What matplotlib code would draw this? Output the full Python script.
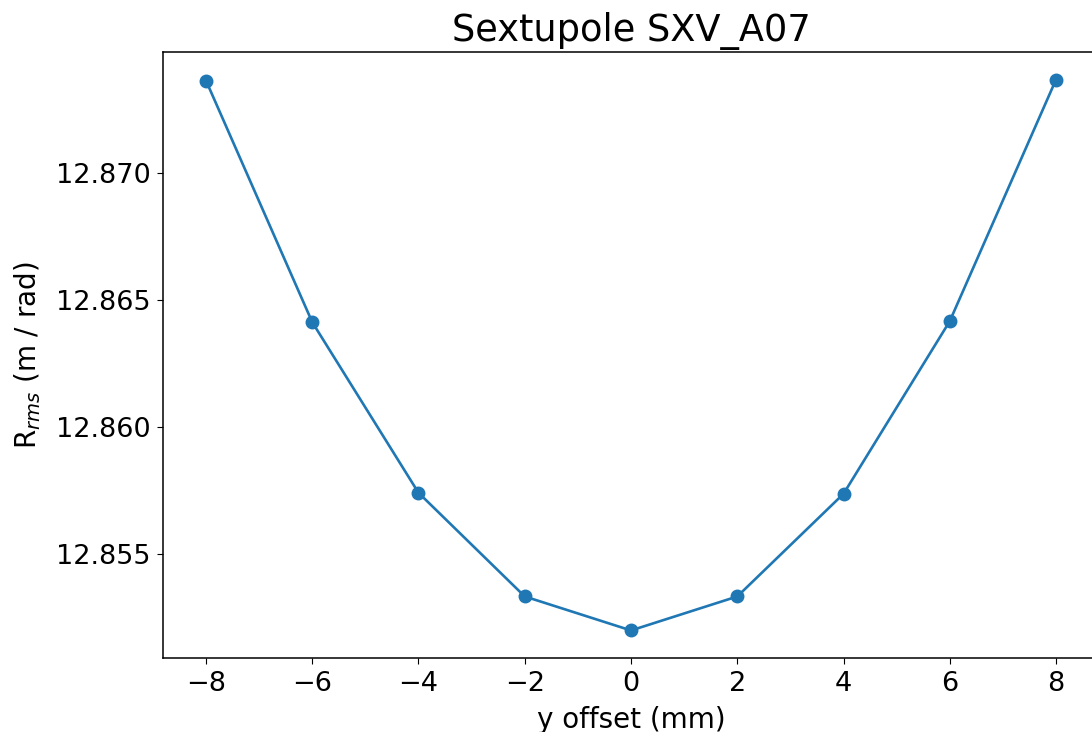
import matplotlib
matplotlib.use('Agg')
import matplotlib.pyplot as plt
from matplotlib.ticker import FormatStrFormatter

# y offset scan of sextupole SXV_A07
offsets = [-8, -6, -4, -2, 0, 2, 4, 6, 8]
r_rms = [12.87366, 12.86413, 12.85740, 12.85331, 12.85197,
         12.85331, 12.85736, 12.86417, 12.87370]

fig = plt.figure(figsize=(10.92, 7.32), dpi=100)
ax = fig.add_axes([0.1497, 0.1011, 0.8563, 0.8279])

ax.plot(offsets, r_rms, marker='o', color='tab:blue', linewidth=1.9, markersize=9)

ax.set_xticks([-8, -6, -4, -2, 0, 2, 4, 6, 8])
ax.set_xlabel('y offset (mm)', fontsize=20, labelpad=6)
ax.set_ylabel(r'R$_{rms}$ (m / rad)', fontsize=20, labelpad=9)
ax.set_title('Sextupole SXV_A07', fontsize=26.5, pad=8)
ax.tick_params(labelsize=19.5, length=4.5, pad=5)
ax.yaxis.set_major_formatter(FormatStrFormatter('%.3f'))
for sp in ax.spines.values():
    sp.set_linewidth(1.1)

fig.savefig('out.png', dpi=100)
